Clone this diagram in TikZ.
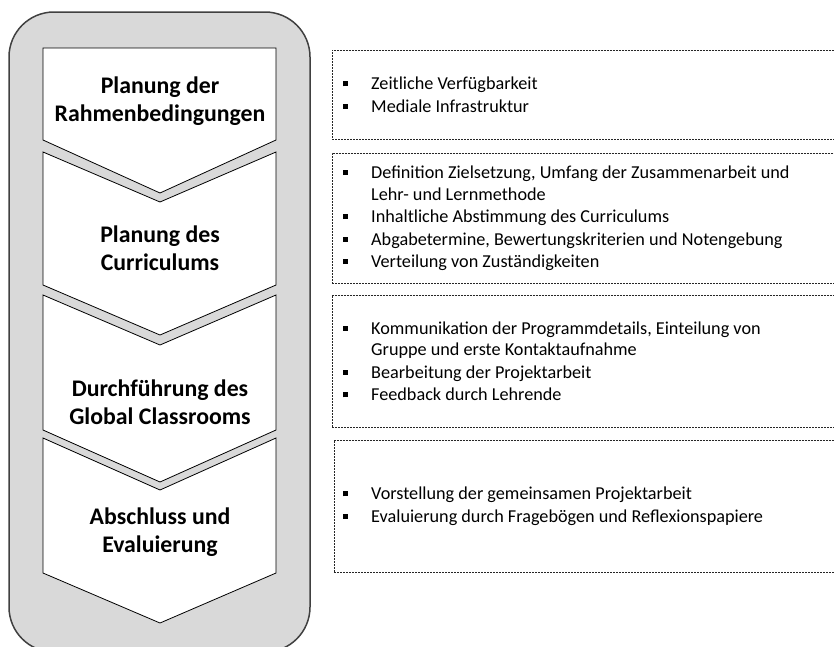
\documentclass[tikz,border=0pt]{standalone}
\usepackage{fontspec}
\setmainfont{Carlito}
\usetikzlibrary{positioning}

\definecolor{framefill}{HTML}{D9D9D9}
\definecolor{framedraw}{HTML}{404040}
\newcommand{\bul}{\makebox[28pt][l]{\raisebox{0.2em}{\rule{5pt}{5pt}}}}
\newcommand{\ind}{\hspace*{28pt}}

\tikzset{
	chevron/.style={draw=black, fill=white, line width=0.8pt},
	phase/.style={font=\fontsize{23.8}{28}\selectfont\bfseries, align=center},
	infobox/.style={draw=black!85, dash pattern=on 2pt off 1pt, line width=0.8pt, minimum width=520pt, anchor=north west, inner sep=0pt},
	infotext/.style={font=\fontsize{18.2}{21.5}\selectfont, align=left, anchor=west, inner sep=0pt},
}

\begin{document}
\begin{tikzpicture}[x=1pt, y=-1pt]
		\useasboundingbox (0,0) rectangle (834,646);

		% Draw frame
		\draw[fill=framefill, draw=framedraw, line width=1.5pt, rounded corners=45pt] (9,12) rectangle (310,652);

		% Draw chevrons
		\draw[chevron] (43,48) -- (276,48) -- (276,140) -- (160,193) -- (43,140) -- cycle;
		\draw[chevron] (43,152) -- (160,202) -- (276,152) -- (276,285) -- (160,335) -- (43,285) -- cycle;
		\draw[chevron] (43,295) -- (160,345) -- (276,295) -- (276,430) -- (160,482) -- (43,430) -- cycle;
		\draw[chevron] (43,438) -- (160,490) -- (276,438) -- (276,573) -- (160,623) -- (43,573) -- cycle;

		% Phase labels
		\node[phase] (p1) at (160,101) {Planung der\\Rahmenbedingungen};
		\node[phase] (p2) at (160,248) {Planung des\\Curriculums};
		\node[phase] (p3) at (160,402) {Durchführung des\\Global Classrooms};
		\node[phase] (p4) at (160,532) {Abschluss und\\Evaluierung};

		% Draw boxes
		\node[infobox, minimum height=89pt] (b1) at (332,50) {};
		\node[infobox, minimum height=130pt] (b2) at (332,153) {};
		\node[infobox, minimum height=132pt] (b3) at (332,295) {};
		\node[infobox, minimum height=132pt] (b4) at (334,440) {};

		% Box texts
		\node[infotext, right=11pt of b1.west] (t1) {\bul Zeitliche Verfügbarkeit\\[1pt]
			\bul Mediale Infrastruktur};
		\node[infotext, right=11pt of b2.west] (t2) {\bul Definition Zielsetzung, Umfang der Zusammenarbeit und\\
			\ind Lehr- und Lernmethode\\[1pt]
			\bul Inhaltliche Abstimmung des Curriculums\\[1pt]
			\bul Abgabetermine, Bewertungskriterien und Notengebung\\[1pt]
			\bul Verteilung von Zuständigkeiten};
		\node[infotext, right=11pt of b3.west] (t3) {\bul Kommunikation der Programmdetails, Einteilung von\\
			\ind Gruppe und erste Kontaktaufnahme\\[1pt]
			\bul Bearbeitung der Projektarbeit\\[1pt]
			\bul Feedback durch Lehrende};
		\node[infotext, right=9pt of b4.west] (t4) {\bul Vorstellung der gemeinsamen Projektarbeit\\[1pt]
			\bul Evaluierung durch Fragebögen und Reflexionspapiere};
	\end{tikzpicture}
\end{document}
